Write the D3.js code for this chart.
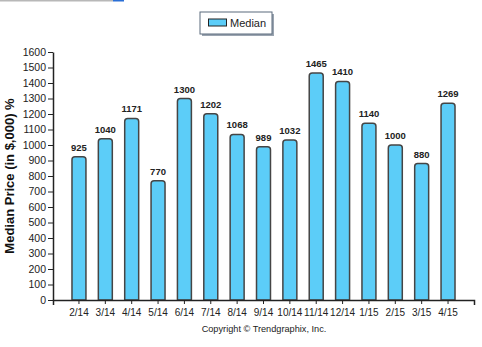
<!DOCTYPE html>
<html>
<head>
<meta charset="utf-8">
<script src="https://cdn.jsdelivr.net/npm/d3@7"></script>
<style>
  html, body { margin: 0; padding: 0; background: #fff; }
  svg { display: block; font-family: "Liberation Sans", Arial, sans-serif; }
</style>
</head>
<body>
<svg id="chart" width="482" height="347"></svg>
<script>
// Monthly median price (in $,000)
const months = ["2/14","3/14","4/14","5/14","6/14","7/14","8/14","9/14","10/14","11/14","12/14","1/15","2/15","3/15","4/15"];
const medianValues = [925, 1040, 1171, 770, 1300, 1202, 1068, 989, 1032, 1465, 1410, 1140, 1000, 880, 1269];
const yTicks = [0,100,200,300,400,500,600,700,800,900,1000,1100,1200,1300,1400,1500,1600];
const seriesName = "Median";

const FONT = "'Liberation Sans', Arial, sans-serif";
const svg = d3.select("#chart");
const plotLeft = 53, plotRight = 474, plotTop = 52, plotBottom = 300;

const x = d3.scaleBand().domain(months).range([plotLeft, plotRight]).paddingInner(0.47).paddingOuter(0.72);
const y = d3.scaleLinear().domain([0, 1600]).range([plotBottom, plotTop]);

// thin header rule
svg.append("rect").attr("x", 0).attr("y", 0).attr("width", 113).attr("height", 1.5).attr("fill", "#b8b8b8");
svg.append("rect").attr("x", 113).attr("y", 0).attr("width", 11).attr("height", 1.5).attr("fill", "#2a6fd6");

// bars with rounded tops
const r = 3;
svg.append("g").selectAll("path").data(medianValues).join("path")
  .attr("d", (d, i) => {
    const x0 = x(months[i]), w = x.bandwidth(), yt = y(d), yb = y(0);
    return `M${x0},${yb} L${x0},${yt + r} Q${x0},${yt} ${x0 + r},${yt} L${x0 + w - r},${yt} Q${x0 + w},${yt} ${x0 + w},${yt + r} L${x0 + w},${yb} Z`;
  })
  .attr("fill", "#5ccdf8")
  .attr("stroke", "#454545")
  .attr("stroke-width", 1.5);

// value labels
svg.append("g").selectAll("text").data(medianValues).join("text")
  .attr("x", (d, i) => x(months[i]) + x.bandwidth() / 2)
  .attr("y", d => y(d) - 6)
  .attr("text-anchor", "middle")
  .attr("font-size", 9.5)
  .attr("font-weight", "bold")
  .attr("fill", "#222")
  .text(d => d);

// y axis
const yAxis = svg.append("g").attr("transform", `translate(${plotLeft},0)`)
  .call(d3.axisLeft(y).tickValues(yTicks).tickFormat(d3.format("d")).tickSize(5).tickPadding(2).tickSizeOuter(0));
yAxis.select(".domain").attr("stroke", "#222").attr("stroke-width", 1.5);
yAxis.selectAll(".tick line").attr("stroke", "#222");
yAxis.selectAll(".tick text").attr("font-size", 10.5).attr("fill", "#222").attr("font-family", FONT);

// x axis
const xAxis = svg.append("g").attr("transform", `translate(0,${plotBottom})`)
  .call(d3.axisBottom(x).tickSize(4).tickPadding(5).tickSizeOuter(5));
xAxis.select(".domain").attr("stroke", "#222").attr("stroke-width", 1.5);
xAxis.selectAll(".tick line").attr("stroke", "#222");
xAxis.selectAll(".tick text").attr("font-size", 10).attr("fill", "#222").attr("font-family", FONT);

// y axis title
svg.append("text")
  .attr("transform", `translate(11,176) rotate(-90)`)
  .attr("text-anchor", "middle")
  .attr("dominant-baseline", "middle")
  .attr("font-size", 13)
  .attr("font-weight", "bold")
  .attr("fill", "#111")
  .text("Median Price (in $,000) %");

// legend
const lg = svg.append("g").attr("transform", "translate(200,12)");
lg.append("rect").attr("x", 2).attr("y", 2).attr("width", 72).attr("height", 22).attr("fill", "#9aa4b0");
lg.append("rect").attr("x", 0).attr("y", 0).attr("width", 72).attr("height", 22).attr("fill", "#fff").attr("stroke", "#5b6b7d").attr("stroke-width", 1);
lg.append("rect").attr("x", 8.5).attr("y", 7).attr("width", 18).attr("height", 7).attr("fill", "#5ccdf8").attr("stroke", "#222").attr("stroke-width", 1);
lg.append("text").attr("x", 30).attr("y", 15).attr("font-size", 11).attr("fill", "#222").text(seriesName);

// footer
svg.append("text")
  .attr("x", 264).attr("y", 332)
  .attr("text-anchor", "middle")
  .attr("font-size", 9.2)
  .attr("fill", "#222")
  .text("Copyright \u00A9 Trendgraphix, Inc.");
</script>
</body>
</html>
